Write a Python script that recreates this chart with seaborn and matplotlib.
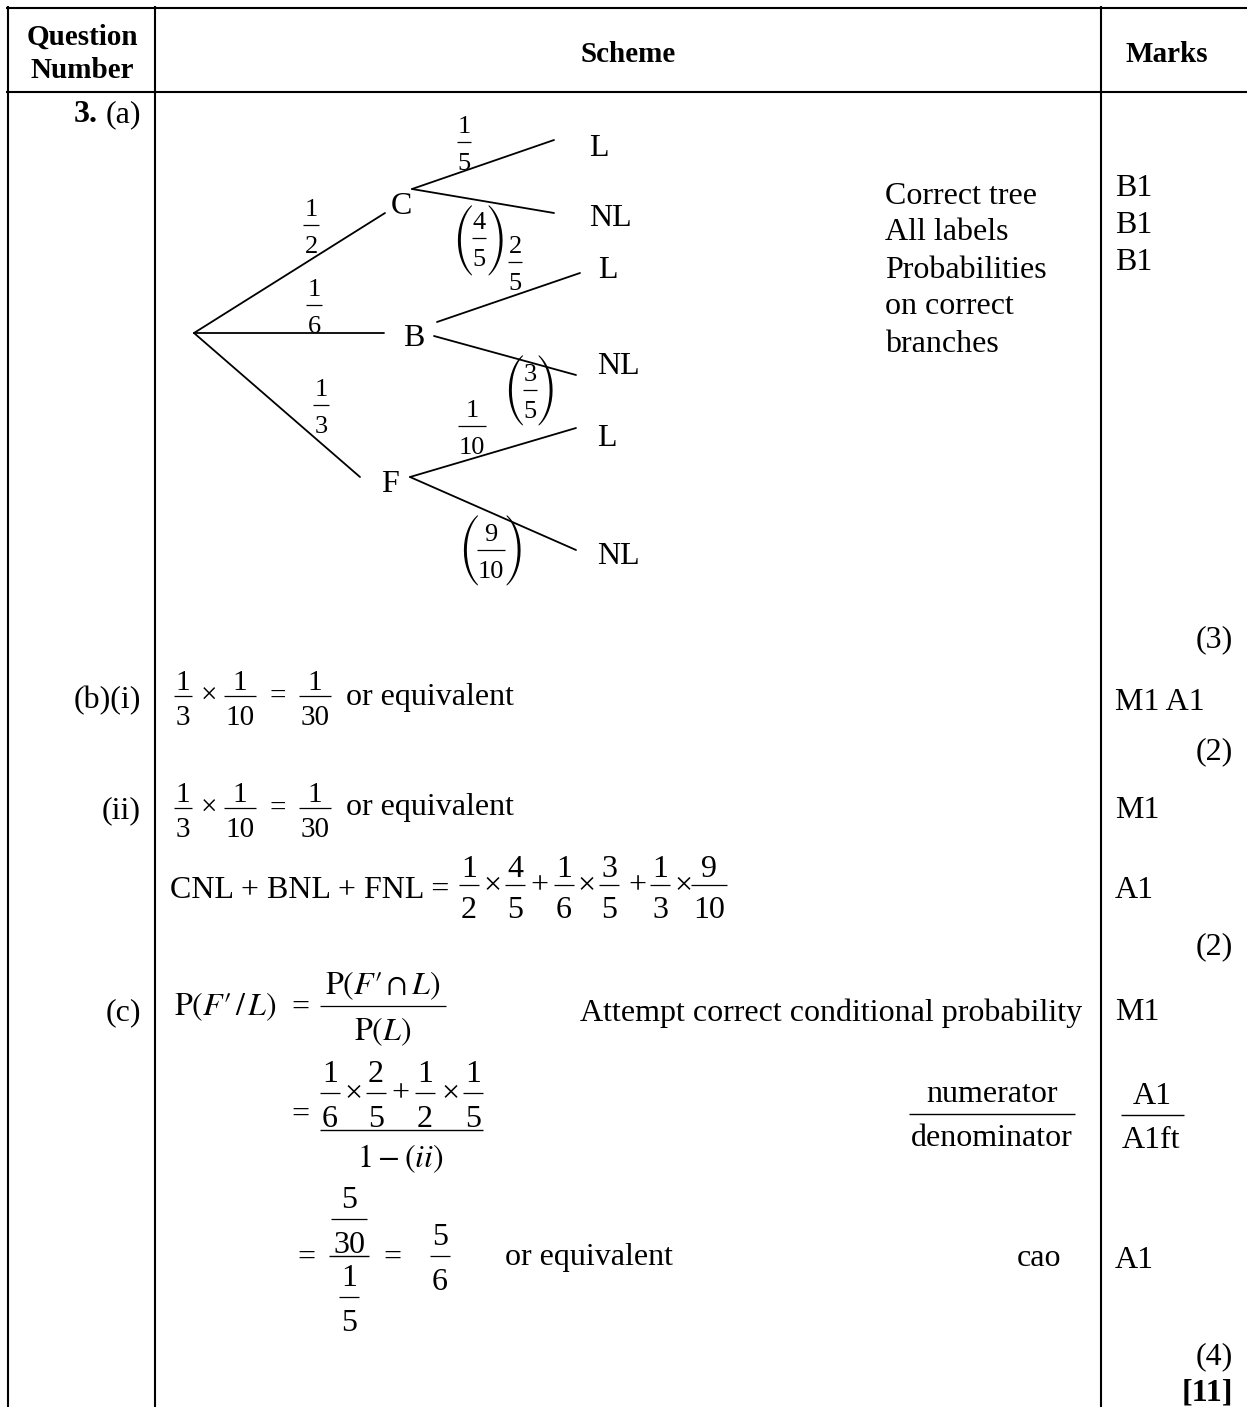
import matplotlib
matplotlib.use("Agg")
import matplotlib.pyplot as plt
import pandas as pd
import seaborn as sns

# ------------------------------------------------------------------ data
header_labels = ["Question", "Number", "Scheme", "Marks"]
level1_nodes = ["C", "B", "F"]
level1_probs = ["1/2", "1/6", "1/3"]
level2_nodes = ["L", "NL"]
level2_probs_C = ["1/5", "(4/5)"]
level2_probs_B = ["2/5", "(3/5)"]
level2_probs_F = ["1/10", "(9/10)"]
part_a_notes = ["Correct tree", "All labels", "Probabilities", "on correct", "branches"]
part_a_marks = ["B1", "B1", "B1"]
part_labels = ["(b)(i)", "(ii)", "(c)"]
subtotals = ["(3)", "(2)", "(2)", "(4)"]
row_marks = ["M1 A1", "M1", "A1", "M1", "A1"]
frac_marks = ["A1", "A1ft"]
frac_notes = ["numerator", "denominator"]
total_mark = "[11]"
expr_b = ["1/3", "×", "1/10", "=", "1/30"]
expr_cnl = ["1/2", "×", "4/5", "+", "1/6", "×", "3/5", "+", "1/3", "×", "9/10"]
expr_c_num = ["1/6", "×", "2/5", "+", "1/2", "×", "1/5"]
expr_c_res = ["5/30", "1/5", "5/6"]

# ------------------------------------------------------------------ style
sns.set_theme(style="white")
plt.rcParams["font.family"] = ["Liberation Serif", "DejaVu Serif"]
plt.rcParams["mathtext.fontset"] = "stix"

W, H = 1247, 1407
fig = plt.figure(figsize=(W / 100, H / 100), dpi=100)
ax = fig.add_axes([0, 0, 1, 1])

BASE = 23      # body text size (pt)
TREE = 19      # tree fraction size


def T(x, y, s, size=BASE, ha="left", va="center", weight="normal", family=None):
    kw = {}
    if family is not None:
        kw["family"] = family
    ax.text(x, y, s, fontsize=size, ha=ha, va=va, fontweight=weight,
            color="black", zorder=5, **kw)


def hline(x0, x1, y, lw=1.0):
    ax.plot([x0, x1], [y, y], color="black", lw=lw, solid_capstyle="butt", zorder=4)


def vline(x, y0, y1, lw=1.0):
    ax.plot([x, x], [y0, y1], color="black", lw=lw, solid_capstyle="butt", zorder=4)


def frac(xc, yl, f, size=BASE, up=0.67, dn=0.74, pad=0.12):
    e = size / 0.72
    n, d = f.strip("()").split("/")
    T(xc, yl - up * e + 0.105 * e, n, size=size, ha="center")
    T(xc, yl + dn * e + 0.105 * e, d, size=size, ha="center")
    w = (max(len(n), len(d)) * 0.5 + pad) * e
    hline(xc - w / 2, xc + w / 2, yl, 0.9)


def parens(xl, xr, yc, size=16.5):
    fam = ["STIXSizeFourSym", "STIXSizeThreeSym", "DejaVu Sans"]
    T(xl, yc, "(", size=size, ha="center", family=fam)
    T(xr, yc, ")", size=size, ha="center", family=fam)


def sequence(items, xs, yl, size=BASE, up=0.67, dn=0.74):
    e = size / 0.72
    for it, x in zip(items, xs):
        if "/" in it:
            frac(x, yl, it, size=size, up=up, dn=dn)
        else:
            T(x, yl + 0.02 * e, it, size=size, ha="center")


# ------------------------------------------------------------------ table frame
TL = 1.5
hline(6, W, 7.5, TL)
hline(6, W, 91.5, TL)
vline(7.5, 6, H, TL)
vline(155, 6, H, TL)
vline(1101, 6, H, TL)

T(82, 37, header_labels[0], size=21, ha="center", weight="bold")
T(82, 71, header_labels[1], size=21, ha="center", weight="bold")
T(628, 54, header_labels[2], size=21, ha="center", weight="bold")
T(1167, 54, header_labels[3], size=21, ha="center", weight="bold")

# ------------------------------------------------------------------ tree layout
root = (194, 333)
l1_end = {"C": (385, 213), "B": (384, 333), "F": (360, 477)}
l1_lab = {"C": (401, 206), "B": (414, 339), "F": (390, 484)}
l2_start = {("C", "L"): (412, 189), ("C", "NL"): (412, 189),
            ("B", "L"): (437, 322), ("B", "NL"): (434, 336),
            ("F", "L"): (410, 477), ("F", "NL"): (410, 477)}
l2_end = {("C", "L"): (554, 140), ("C", "NL"): (554, 213),
          ("B", "L"): (580, 273), ("B", "NL"): (576, 375),
          ("F", "L"): (576, 428), ("F", "NL"): (576, 550)}
l2_lab = {("C", "L"): (589, 149), ("C", "NL"): (589, 219),
          ("B", "L"): (598, 270), ("B", "NL"): (597, 367),
          ("F", "L"): (597, 439), ("F", "NL"): (597, 556)}
l1_prob_pos = {"C": (311, 225), "B": (314, 305), "F": (321, 405)}
l2_prob_pos = {("C", "L"): (464, 142), ("C", "NL"): (479, 238),
               ("B", "L"): (515, 262), ("B", "NL"): (530, 390),
               ("F", "L"): (472, 426), ("F", "NL"): (491, 550)}
paren_pos = {("C", "NL"): (463, 496, 240), ("B", "NL"): (514, 546, 390),
             ("F", "NL"): (469, 514, 550)}

rows = []
seg = 0
for node in level1_nodes:
    for (px, py) in (root, l1_end[node]):
        rows.append(dict(seg=seg, x=px, y=py))
    seg += 1
    for leaf in level2_nodes:
        for (px, py) in (l2_start[(node, leaf)], l2_end[(node, leaf)]):
            rows.append(dict(seg=seg, x=px, y=py))
        seg += 1
branches = pd.DataFrame(rows)
sns.lineplot(data=branches, x="x", y="y", units="seg", estimator=None, sort=False,
             color="black", lw=1.3, ax=ax, legend=False, zorder=3)

l2_probs = {"C": level2_probs_C, "B": level2_probs_B, "F": level2_probs_F}
for node, p in zip(level1_nodes, level1_probs):
    T(*l1_lab[node], node, ha="center")
    frac(*l1_prob_pos[node], p, size=TREE)
    for leaf, q in zip(level2_nodes, l2_probs[node]):
        T(*l2_lab[(node, leaf)], leaf)
        frac(*l2_prob_pos[(node, leaf)], q, size=TREE, pad=0.05)
        if q.startswith("("):
            parens(*paren_pos[(node, leaf)])

# ------------------------------------------------------------------ part (a)
T(74, 115, "3.", weight="bold")
T(141, 115, "(a)", ha="right")
for i, s in enumerate(part_a_notes):
    T(885, 196 + 37 * i, s)
for i, s in enumerate(part_a_marks):
    T(1115, 189 + 36.5 * i, s)
T(1233, 640, subtotals[0], ha="right")

# ------------------------------------------------------------------ part (b)
xs_b = [183, 209, 240, 278, 315]
T(141, 701, part_labels[0], ha="right")
sequence(expr_b, xs_b, 696, size=21, up=0.56, dn=0.66)
T(346, 697, "or equivalent")
T(1115, 703, row_marks[0])
T(1233, 752, subtotals[1], ha="right")

T(141, 811, part_labels[1], ha="right")
sequence(expr_b, xs_b, 808, size=21, up=0.56, dn=0.66)
T(346, 808, "or equivalent")
T(1115, 811, row_marks[1])

T(170, 890, "CNL + BNL + FNL =")
xs_cnl = [469, 492, 515, 539, 564, 586, 609, 637, 660, 683, 709]
sequence(expr_cnl, xs_cnl, 885, size=BASE, up=0.58, dn=0.70)
T(1115, 890, row_marks[2])
T(1233, 947, subtotals[2], ha="right")

# ------------------------------------------------------------------ part (c)
T(141, 1013, part_labels[2], ha="right")
T(174, 1007, r"$\mathrm{P}(F\prime\,/\,L)$")
T(300, 1008, "=", ha="center")
T(383, 986, r"$\mathrm{P}(F\prime\cap L)$", ha="center")
hline(320, 446, 1006, 0.9)
T(383, 1032, r"$\mathrm{P}(L)$", ha="center")
T(1082, 1013, "Attempt correct conditional probability", ha="right")
T(1115, 1013, row_marks[3])

T(300, 1115, "=", ha="center")
xs_cn = [330, 353, 376, 400, 425, 450, 473]
sequence(expr_c_num, xs_cn, 1093, size=BASE)
hline(320, 483, 1130, 1.0)
T(400, 1159, r"$1-(ii)$", ha="center")

T(992, 1095, frac_notes[0], ha="center")
hline(909, 1075, 1114, 1.0)
T(992, 1139, frac_notes[1], ha="center")
T(1152, 1096, frac_marks[0], ha="center")
hline(1121, 1184, 1115, 1.0)
T(1151, 1140, frac_marks[1], ha="center")

T(306, 1258, "=", ha="center")
frac(349, 1219, expr_c_res[0], size=BASE)
hline(329, 369, 1256, 1.0)
frac(349, 1297, expr_c_res[1], size=BASE)
T(392, 1258, "=", ha="center")
frac(440, 1256, expr_c_res[2], size=BASE)
T(505, 1257, "or equivalent")
T(1061, 1258, "cao", ha="right")
T(1115, 1261, row_marks[4])

T(1233, 1357, subtotals[3], ha="right")
T(1233, 1393, total_mark, ha="right", weight="bold")

ax.set_xlim(0, W)
ax.set_ylim(H, 0)
ax.axis("off")
fig.savefig("out.png", dpi=100, facecolor="white")
